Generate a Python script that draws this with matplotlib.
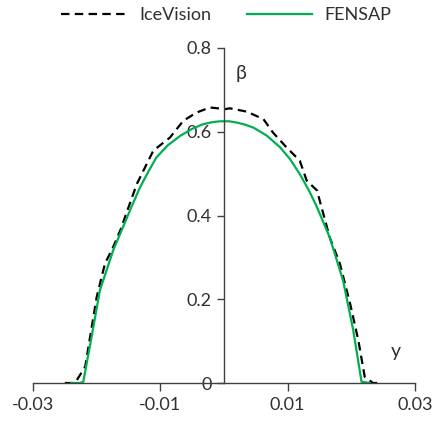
import matplotlib.pyplot as plt

plt.rcParams['font.family'] = ['Lato', 'DejaVu Sans']

# IceVision (dashed black)
ice_x = [-0.0250, -0.0234, -0.0218, -0.0200, -0.0187, -0.0174, -0.0163, -0.0137,
         -0.0111, -0.0085, -0.0064, -0.0043, -0.0022, 0.0002, 0.0009, 0.0036,
         0.0062, 0.0077, 0.0098, 0.0119, 0.0130, 0.0146, 0.0156, 0.0166,
         0.0182, 0.0198, 0.0211, 0.0221, 0.0234, 0.0248]
ice_b = [0.0, 0.0, 0.039, 0.205, 0.285, 0.325, 0.364, 0.475,
         0.555, 0.586, 0.626, 0.646, 0.658, 0.654, 0.656, 0.648,
         0.630, 0.598, 0.563, 0.531, 0.483, 0.460, 0.404, 0.348,
         0.285, 0.190, 0.102, 0.015, 0.0, 0.0]

# FENSAP (green)
fen_x = [-0.0240, -0.0226, -0.0221, -0.0208, -0.0195, -0.0174, -0.0161, -0.0146,
         -0.0132, -0.0118, -0.0106, -0.0088, -0.0069, -0.0050, -0.0033, -0.0018,
         -0.0006, 0.0008, 0.0020, 0.0033, 0.0046, 0.0067, 0.0088, 0.0104,
         0.0119, 0.0133, 0.0146, 0.0166, 0.0187, 0.0203, 0.0216, 0.0229]
fen_b = [0.0, 0.0, 0.003, 0.110, 0.221, 0.317, 0.364, 0.418,
         0.467, 0.507, 0.539, 0.568, 0.590, 0.607, 0.618, 0.623,
         0.625, 0.625, 0.622, 0.617, 0.610, 0.591, 0.563, 0.534,
         0.499, 0.461, 0.420, 0.348, 0.245, 0.126, 0.003, 0.0]

fig = plt.figure(figsize=(4.32, 4.24), dpi=100)
ax = fig.add_axes([33 / 432, 1 - 383 / 424, 382 / 432, 335 / 424])

ax.plot(ice_x, ice_b, color='black', linestyle=(0, (3.8, 2.4)), lw=1.6, label='IceVision')
ax.plot(fen_x, fen_b, color='#00B050', lw=1.6, label='FENSAP')

ax.set_xlim(-0.03, 0.03)
ax.set_ylim(0, 0.8)
ax.set_xticks([-0.03, -0.01, 0.01, 0.03])
ax.set_xticklabels(['-0.03', '-0.01', '0.01', '0.03'])
ax.set_yticks([0, 0.2, 0.4, 0.6, 0.8])
ax.set_yticklabels(['0', '0.2', '0.4', '0.6', '0.8'])

ax.spines['left'].set_position(('data', 0))
ax.spines['top'].set_visible(False)
ax.spines['right'].set_visible(False)
for s in ('left', 'bottom'):
    ax.spines[s].set_color('#404040')
    ax.spines[s].set_linewidth(1.0)
ax.tick_params(axis='x', direction='out', length=6, width=1.0, color='#404040',
               labelsize=13, labelcolor='#303030', pad=4)
ax.tick_params(axis='y', direction='out', length=5, width=1.0, color='#404040',
               labelsize=13, labelcolor='#303030', pad=4)

ax.text(0.0027, 0.74, 'β', fontsize=14, color='#303030', ha='center', va='center')
ax.text(0.0270, 0.075, 'y', fontsize=14, color='#303030', ha='center', va='center')

ax.legend(loc='center', bbox_to_anchor=(0.5065, 1.098), ncol=2, frameon=False,
          fontsize=13, handlelength=3.6, columnspacing=2.0, handletextpad=0.7,
          labelcolor='#303030')

fig.savefig('out.png', dpi=100)
